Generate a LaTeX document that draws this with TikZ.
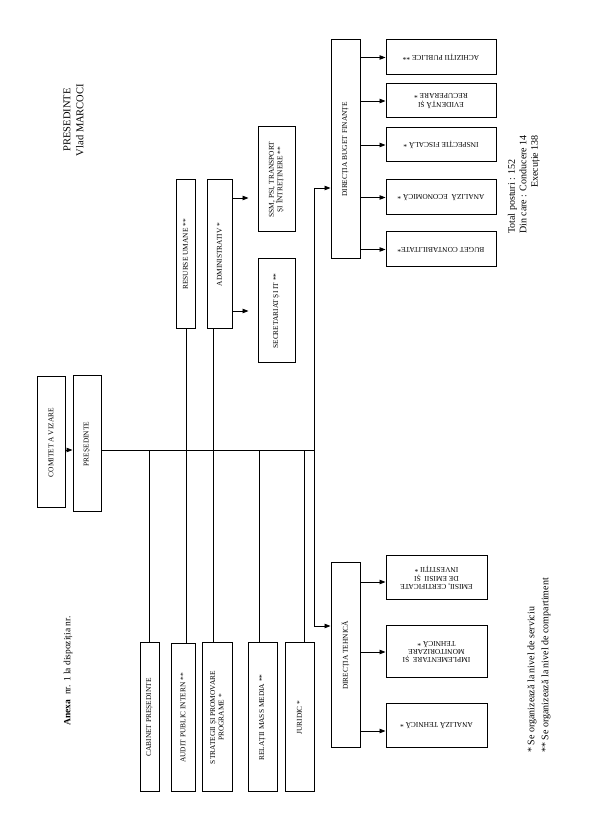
\documentclass[tikz,border=0pt]{standalone}
\usepackage{fontspec}
\setmainfont{Liberation Serif}
\usetikzlibrary{arrows.meta}
\begin{document}
\begin{tikzpicture}[x=1pt,y=1pt,
  box/.style={draw, line width=1pt, inner sep=1pt, align=center, font=\fontsize{7.4}{8.4}\selectfont},
  vbox/.style={box, rotate=90},
  ubox/.style={box, rotate=180},
  arr/.style={-{Triangle[length=6pt,width=4.5pt]}},
  conn/.style={line width=0.9pt}
]
\useasboundingbox[fill=white] (0,0) rectangle (599,816);

% boxes
\node[vbox, minimum width=131, minimum height=28] (com) at (51,373.5) {COMITET A VIZARE};
\node[vbox, minimum width=136, minimum height=28] (pres) at (87,372) {PREȘEDINTE};
\node[vbox, minimum width=149, minimum height=19] (cab) at (149.5,98.5) {CABINET PREȘEDINTE};
\node[vbox, minimum width=148, minimum height=24] (aud) at (183,98) {AUDIT PUBLIC INTERN **};
\node[vbox, minimum width=149, minimum height=30] (str) at (217,98.5) {STRATEGII ȘI PROMOVARE\\PROGRAME *};
\node[vbox, minimum width=149, minimum height=29] (rel) at (262.5,98.5) {RELAȚII MASS MEDIA **};
\node[vbox, minimum width=149, minimum height=29] (jur) at (299.5,98.5) {JURIDIC *};
\node[vbox, minimum width=149, minimum height=19] (res) at (185.5,561.5) {RESURSE UMANE **};
\node[vbox, minimum width=149, minimum height=25] (adm) at (219.5,561.5) {ADMINISTRATIV *};
\node[vbox, minimum width=105, minimum height=37] (ssm) at (276.5,636.5) {SSM, PSI, TRANSPORT\\ȘI ÎNTREȚINERE **};
\node[vbox, minimum width=104, minimum height=37] (sec) at (276.5,505) {SECRETARIAT ȘI IT **};
\node[vbox, minimum width=219, minimum height=29] (dbf) at (345.5,666.5) {DIRECȚIA BUGET FINANȚE};
\node[ubox, minimum width=110, minimum height=35] (ach) at (441,758.5) {ACHIZIȚII PUBLICE **};
\node[ubox, minimum width=110, minimum height=34] (evi) at (441,715) {EVIDENȚĂ ȘI\\RECUPERARE *};
\node[ubox, minimum width=110, minimum height=34] (ins) at (441,671) {INSPECȚIE FISCALĂ *};
\node[ubox, minimum width=110, minimum height=35] (ane) at (441,618.5) {ANALIZĂ\ \ ECONOMICĂ *};
\node[ubox, minimum width=110, minimum height=35] (bug) at (441,566.5) {BUGET CONTABILITATE*};
\node[vbox, minimum width=185, minimum height=29] (dt) at (345.5,160.5) {DIRECȚIA TEHNICĂ};
\node[ubox, minimum width=101, minimum height=44] (emi) at (436.5,238) {EMISII, CERTIFICATE\\DE EMISII\ \ ȘI\\INVESTIȚII *};
\node[ubox, minimum width=101, minimum height=52] (imp) at (436.5,164) {IMPLEMENTARE\ \ ȘI\\MONITORIZARE\\TEHNICĂ *};
\node[ubox, minimum width=101, minimum height=44] (ant) at (436.5,90) {ANALIZĂ TEHNICĂ *};

% free texts
\node[rotate=90, align=center, font=\fontsize{10.5}{13}\selectfont] (title) at (73.5,696) {PRESEDINTE\\Vlad MARCOCI};
\node[rotate=90, font=\fontsize{9.5}{11}\selectfont] (anexa) at (68,145) {\textbf{Anexa}\ \ nr. 1 la dispoziția nr.};
\node[rotate=90, anchor=west, inner sep=0pt, font=\fontsize{10}{11.5}\selectfont] (tot) at (524,582)
  {\begin{tabular}{@{}l@{}}Total posturi : 152\\Din care : Conducere 14\\\multicolumn{1}{@{}r@{}}{Execuție 138}\end{tabular}};
\node[rotate=90, anchor=west, inner sep=0pt, align=left, font=\fontsize{10}{14}\selectfont] (fn) at (539,63)
  {* Se organizează la nivel de serviciu\\** Se organizează la nivel de compartiment};

% coordinates
\coordinate (bus) at (314,366);
\coordinate (j149) at (149,366);
\coordinate (j186) at (186,366);
\coordinate (j213) at (213,366);
\coordinate (j259) at (259,366);
\coordinate (j304) at (304,366);
\coordinate (t1) at (314,628);
\coordinate (t2) at (314,190);
\coordinate (a1) at (232,618);

% connectors
\draw[conn] (pres.south |- bus) -- (bus);
\draw[conn,arr] (com.south |- bus) -- (pres.north |- bus);
\draw[conn] (cab.east -| j149) -- (j149);
\draw[conn] (res.west -| j186) -- (aud.east -| j186);
\draw[conn] (adm.west -| j213) -- (str.east -| j213);
\draw[conn] (rel.east -| j259) -- (j259);
\draw[conn] (jur.east -| j304) -- (j304);
\draw[conn] (t1) -- (t2);
\draw[conn,arr] (t1) -- (t1 -| dbf.north);
\draw[conn,arr] (t2) -- (t2 -| dt.north);
\draw[conn,arr,shorten >=9pt] (a1 -| adm.south) -- (a1 -| ssm.north);
\draw[conn,arr,shorten >=9pt] (adm.south |- sec.north) -- (sec.north);
\foreach \n in {ach,evi,ins,ane,bug}
  \draw[conn,arr] (dbf.south |- \n.east) -- (\n.east);
\draw[conn,arr] ([yshift=-4pt]dt.south |- emi.east) -- ([yshift=-4pt]emi.east);
\draw[conn,arr] (dt.south |- imp.east) -- (imp.east);
\draw[conn,arr] ([yshift=-5pt]dt.south |- ant.east) -- ([yshift=-5pt]ant.east);
\end{tikzpicture}
\end{document}
